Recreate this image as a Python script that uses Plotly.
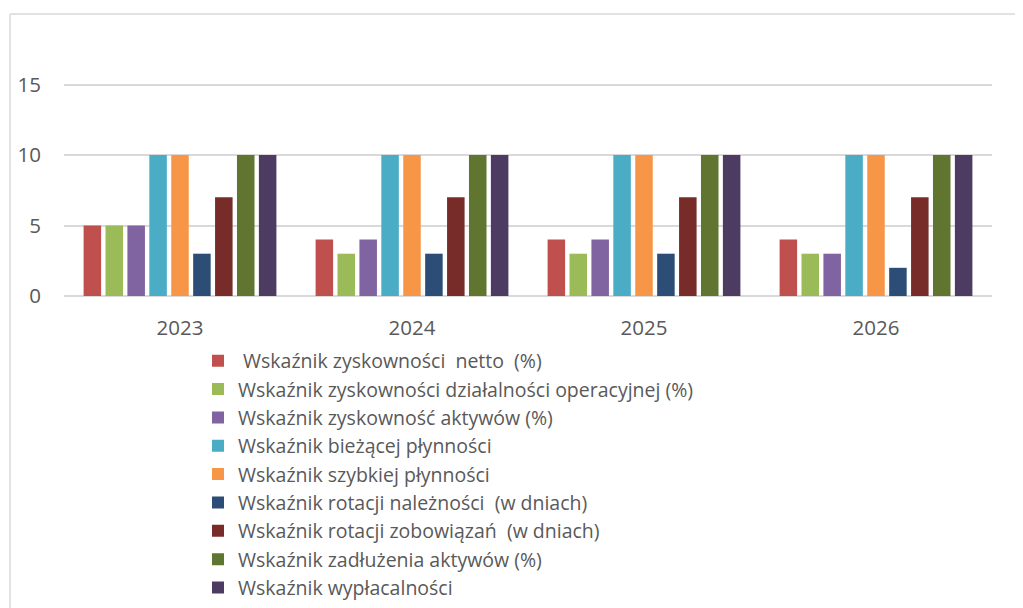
import plotly.graph_objects as go

years = ["2023", "2024", "2025", "2026"]
series_names = [
    "\u00a0Wskaźnik zyskowności\u00a0\u00a0netto\u00a0\u00a0(%)",
    "Wskaźnik zyskowności działalności operacyjnej (%)",
    "Wskaźnik zyskowność aktywów (%)",
    "Wskaźnik bieżącej płynności",
    "Wskaźnik szybkiej płynności",
    "Wskaźnik rotacji należności\u00a0\u00a0(w dniach)",
    "Wskaźnik rotacji zobowiązań\u00a0\u00a0(w dniach)",
    "Wskaźnik zadłużenia aktywów (%)",
    "Wskaźnik wypłacalności",
]
netto = [5, 4, 4, 4]
operacyjnej = [5, 3, 3, 3]
aktywow = [5, 4, 4, 3]
biezacej = [10, 10, 10, 10]
szybkiej = [10, 10, 10, 10]
naleznosci = [3, 3, 3, 2]
zobowiazan = [7, 7, 7, 7]
zadluzenia = [10, 10, 10, 10]
wyplacalnosci = [10, 10, 10, 10]
values = [netto, operacyjnej, aktywow, biezacej, szybkiej, naleznosci,
          zobowiazan, zadluzenia, wyplacalnosci]
colors = ["#C0504D", "#9BBB59", "#8064A2", "#4BACC6", "#F79646",
          "#2C4D75", "#772C2A", "#5F7530", "#4D3B62"]

FONT = "Open Sans"
fig = go.Figure()
for i, (name, vals, col) in enumerate(zip(series_names, values, colors)):
    fig.add_trace(go.Bar(x=years, y=vals, name=name, marker_color=col,
                         marker_line_width=0))

# page body has an 8px margin: work in screen coords and shift
OFF = 8
W, H = 1023 - OFF, 608 - OFF
L, R, T, B = 64 - OFF, 1023 - 992, 14 - OFF, 608 - 296
pw, ph = W - L - R, H - T - B

def px_x(x):
    return (x - OFF - L) / pw

def px_y(y):
    return (H - B - (y - OFF)) / ph

fig.update_layout(
    width=W, height=H,
    margin=dict(l=L, r=R, t=T, b=B, autoexpand=False),
    paper_bgcolor="white", plot_bgcolor="white",
    barmode="group", bargap=0.15, bargroupgap=0.2,
    font=dict(family=FONT, size=20, color="#595959"),
    showlegend=True,
    legend=dict(
        orientation="v", x=px_x(198), y=px_y(341.5), xanchor="left", yanchor="top",
        font=dict(family=FONT, size=19.5, color="#595959"),
        itemwidth=30, bgcolor="rgba(0,0,0,0)",
    ),
    xaxis=dict(showgrid=False, showline=False, ticks="", ticklabelstandoff=17,
               tickfont=dict(family=FONT, size=20.5, color="#595959")),
    yaxis=dict(range=[0, 20], tickvals=[0, 5, 10, 15], showgrid=True,
               gridcolor="#d9d9d9", gridwidth=1.5, zeroline=True,
               zerolinecolor="#d9d9d9", zerolinewidth=1.5, showline=False,
               ticklabelstandoff=22,
               tickfont=dict(family=FONT, size=20.5, color="#595959")),
    shapes=[
        dict(type="line", xref="paper", yref="paper", x0=px_x(10), x1=px_x(1030),
             y0=px_y(14), y1=px_y(14), line=dict(color="#d9d9d9", width=1.5)),
        dict(type="line", xref="paper", yref="paper", x0=px_x(10), x1=px_x(10),
             y0=px_y(14), y1=px_y(620), line=dict(color="#d9d9d9", width=1.5)),
    ],
)

fig.write_html("out.html")
